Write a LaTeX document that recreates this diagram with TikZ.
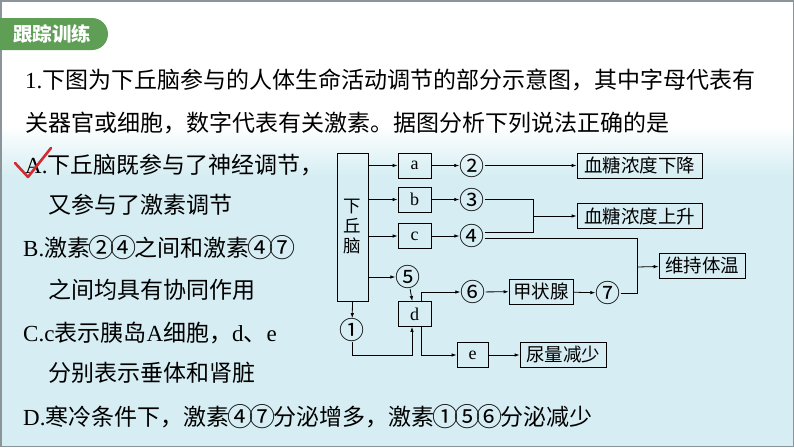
\documentclass[tikz,border=0pt]{standalone}
\usepackage{fontspec}
\setmainfont{Liberation Serif}
\newfontfamily\cjk{Noto Sans CJK SC}
\usetikzlibrary{arrows.meta,positioning,calc}
\definecolor{TabGreen}{HTML}{5E9E55}
\definecolor{TickRed}{HTML}{D42A32}
\definecolor{PaleCyan}{HTML}{D6EEF3}
\definecolor{FrameGray}{HTML}{8A9499}
\newcommand{\zh}[1]{{\cjk #1}}
\newcommand{\cn}[1]{\makebox[22pt]{\raisebox{-1.8pt}{\cjk\fontsize{26}{23}\selectfont #1}}}
\tikzset{
  >={Latex[length=5pt,width=3.5pt]},
  organ/.style={rectangle, draw=black, line width=0.8pt,
    minimum width=33pt, minimum height=25pt, inner sep=0pt,
    font=\fontsize{18}{18}\selectfont},
  effect/.style={rectangle, draw=black, line width=0.8pt,
    minimum height=25pt, inner sep=2pt,
    font=\cjk\fontsize{18.5}{18.5}\selectfont},
  hormone/.style={inner sep=0pt, font=\cjk\fontsize{25}{25}\selectfont},
  link/.style={draw, line width=0.8pt},
  flow/.style={link, ->},
  qline/.style={anchor=west, inner sep=0pt, font=\fontsize{23}{23}\selectfont},
}

\begin{document}
\begin{tikzpicture}[x=1pt, y=-1pt]
\useasboundingbox (0,0) rectangle (794,447);

% background
\fill[white] (0,0) rectangle (794,447);
\shade[top color=white, bottom color=PaleCyan] (0,125) rectangle (794,175);
\fill[PaleCyan] (0,175) rectangle (794,447);
\draw[FrameGray, line width=1.5pt] (0.75,0.75) rectangle (793.25,446.25);

% header tab
\fill[TabGreen] (0,18) -- (92,18) arc[start angle=-90, end angle=90, radius=16] -- (0,50) -- cycle;
\node[text=white, inner sep=0pt, font=\cjk\bfseries\fontsize{19.5}{19.5}\selectfont] (tab) at (52,34) {跟踪训练};

% question
\node[qline] (q1) at (25,80) {1.\zh{下图为下丘脑参与的人体生命活动调节的部分示意图，其中字母代表有}};
\node[qline] (q2) at (25,123) {\zh{关器官或细胞，数字代表有关激素。据图分析下列说法正确的是}};

\node[qline] (optA)  at (25,165) {A.\zh{下丘脑既参与了神经调节，}};
\node[qline] (optA2) at (48,205) {\zh{又参与了激素调节}};
\node[qline] (optB)  at (23,248) {B.\zh{激素}\cn{②}\cn{④}\zh{之间和激素}\cn{④}\cn{⑦}};
\node[qline] (optB2) at (48,290) {\zh{之间均具有协同作用}};
\node[qline] (optC)  at (23,333) {C.c\zh{表示胰岛}A\zh{细胞，}d\zh{、}e};
\node[qline] (optC2) at (48,373) {\zh{分别表示垂体和肾脏}};
\node[qline] (optD)  at (23,417) {D.\zh{寒冷条件下，激素}\cn{④}\cn{⑦}\zh{分泌增多，激素}\cn{①}\cn{⑤}\cn{⑥}\zh{分泌减少}};

% answer tick
\draw[TickRed, line width=2.6pt, line join=round, line cap=round]
  (15,163) -- (28,177) -- (51,148);

% diagram
\node[organ, minimum width=31pt, minimum height=148pt, align=center,
  font=\cjk\fontsize{17.5}{20}\selectfont] (hypo) at (352.5,227) {下\\丘\\脑};

\node[organ] (a) at (414.5,165.5) {a};
\node[organ] (b) at (414.5,199.5) {b};
\node[organ] (c) at (414.5,236) {c};
\node[organ] (d) at (414.5,314) {d};
\node[organ, minimum width=31pt] (e) at (472.5,355) {e};

\node[hormone] (h1) at (352,330) {①};
\node[hormone] (h2) at (472,165.5) {②};
\node[hormone] (h3) at (472,199.5) {③};
\node[hormone] (h4) at (472,236) {④};
\node[hormone] (h5) at (408,277) {⑤};
\node[hormone] (h6) at (473,292) {⑥};
\node[hormone] (h7) at (608,293) {⑦};

\node[effect, minimum width=125pt] (fall)    at (639.5,165.5) {血糖浓度下降};
\node[effect, minimum width=125pt] (rise)    at (639.5,216)   {血糖浓度上升};
\node[effect, minimum width=86pt]  (temp)    at (702,265.5)   {维持体温};
\node[effect, minimum width=64pt]  (thyroid) at (541,291.5)   {甲状腺};
\node[effect, minimum width=86pt]  (urine)   at (563,355)     {尿量减少};

\coordinate (j34) at (533,216);
\coordinate (j47) at (637,267);
\coordinate (j1)  at (412,355);

\draw[flow] (hypo.east |- a) -- (a);
\draw[flow] (hypo.east |- b) -- (b);
\draw[flow] (hypo.east |- c) -- (c);
\draw[flow] (hypo.east |- h5) -- (h5);
\draw[flow] (a) -- (h2);
\draw[flow] (b) -- (h3);
\draw[flow] (c) -- (h4);
\draw[flow] (h2) -- (fall);
\draw[link] (h3) -| (j34);
\draw[link] ($(h4.east)+(0,-4)$) -| (j34);
\draw[flow] (j34) -- (rise);
\draw[link] ($(h4.east)+(0,2)$) -| (j47);
\draw[link] (h7) -| (j47);
\draw[flow] (j47) -- (temp);
\draw[flow] (h5) -- (d);
\draw[flow] ($(d.north)+(6.5,0)$) |- (h6);
\draw[flow] (h6) -- (thyroid);
\draw[flow] (thyroid) -- (h7);
\draw[flow] (hypo.south) -- (h1);
\draw[flow] (h1) |- (j1) -- (j1 |- d.south);
\draw[flow] ($(d.south)+(6.5,0)$) |- (e);
\draw[flow] (e) -- (urine);

\end{tikzpicture}
\end{document}
